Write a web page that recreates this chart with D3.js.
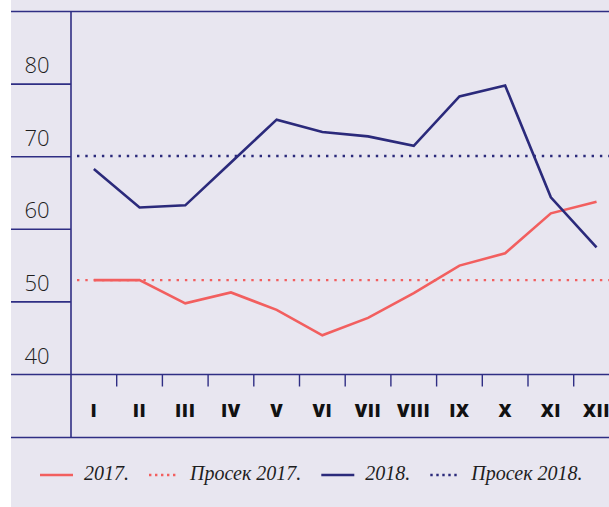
<!DOCTYPE html>
<meta charset="utf-8">
<head>
    <script src="https://d3js.org/d3.v7.min.js"></script>
    <style>
        body { margin: 0; background: #ffffff; }
        svg { display: block; }
    </style>
</head>
<body>
<div id="chart"></div>
<script>
    // data
    var months = ["I", "II", "III", "IV", "V", "VI", "VII", "VIII", "IX", "X", "XI", "XII"];
    var values2017 = [53.0, 53.0, 49.8, 51.3, 48.9, 45.4, 47.8, 51.2, 55.0, 56.7, 62.2, 63.8];
    var values2018 = [68.3, 63.0, 63.3, 69.2, 75.1, 73.4, 72.8, 71.5, 78.3, 79.8, 64.4, 57.5];
    var avg2017 = 53.0;
    var avg2018 = 70.1;
    var yTicks = [40, 50, 60, 70, 80];
    var legendLabels = ["2017.", "Просек 2017.", "2018.", "Просек 2018."];

    var width = 609, height = 507;
    var leftX = 11, axisX = 71, topY = 11.5, baseY = 374.5, bottomY = 437.5;
    var red = "#f25f5f", navy = "#2b2a7b", axisCol = "#2f2e84";

    var svg = d3.select("#chart")
      .append("svg")
        .attr("width", width)
        .attr("height", height);

    // background panel
    svg.append("rect")
        .attr("x", leftX).attr("y", 0)
        .attr("width", width - leftX).attr("height", height)
        .attr("fill", "#e8e6f0");

    var x = d3.scaleBand()
        .domain(months)
        .range([axisX, axisX + 12 * 45.7]);

    var y = d3.scaleLinear()
        .domain([40, 90])
        .range([baseY, topY]);

    // frame lines
    var frame = svg.append("g").attr("stroke", axisCol).attr("stroke-width", 1.6);
    frame.append("line").attr("x1", leftX).attr("x2", width).attr("y1", topY).attr("y2", topY);
    frame.append("line").attr("x1", leftX).attr("x2", width).attr("y1", y(40)).attr("y2", y(40));
    frame.append("line").attr("x1", leftX).attr("x2", width).attr("y1", bottomY).attr("y2", bottomY);
    frame.append("line").attr("x1", axisX).attr("x2", axisX).attr("y1", topY).attr("y2", bottomY);

    // short grid lines in the label column
    frame.selectAll(".grid")
      .data(yTicks.slice(1))
      .enter()
      .append("line")
        .attr("x1", leftX).attr("x2", axisX)
        .attr("y1", function(d) { return y(d); })
        .attr("y2", function(d) { return y(d); });

    // y labels sit above their line
    svg.append("g")
      .selectAll("text")
      .data(yTicks)
      .enter()
      .append("text")
        .attr("x", 37)
        .attr("y", function(d) { return y(d) - 11; })
        .attr("text-anchor", "middle")
        .attr("font-family", "Open Sans")
        .attr("font-weight", 300)
        .attr("font-size", 22)
        .attr("fill", "#1e1e1e")
        .text(function(d) { return d; });

    // x ticks between months
    svg.append("g")
      .selectAll("line")
      .data(months.slice(1))
      .enter()
      .append("line")
        .attr("x1", function(d) { return x(d); })
        .attr("x2", function(d) { return x(d); })
        .attr("y1", baseY)
        .attr("y2", baseY + 12)
        .attr("stroke", axisCol)
        .attr("stroke-width", 1.4);

    svg.append("g")
      .selectAll("text")
      .data(months)
      .enter()
      .append("text")
        .attr("x", function(d) { return x(d) + x.bandwidth() / 2; })
        .attr("y", 417)
        .attr("text-anchor", "middle")
        .attr("font-family", "Open Sans")
        .attr("font-weight", 800)
        .attr("font-size", 18)
        .attr("letter-spacing", 0.5)
        .attr("fill", "#111")
        .text(function(d) { return d; });

    // average lines
    [[avg2017, red], [avg2018, navy]].forEach(function(a) {
        svg.append("line")
            .attr("x1", 77).attr("x2", width)
            .attr("y1", y(a[0])).attr("y2", y(a[0]))
            .attr("stroke", a[1])
            .attr("stroke-width", 2.4)
            .attr("stroke-dasharray", "2.4,5.9");
    });

    var line = d3.line()
        .x(function(d, i) { return x(months[i]) + x.bandwidth() / 2; })
        .y(function(d) { return y(d); });

    svg.append("path")
        .datum(values2017)
        .attr("fill", "none")
        .attr("stroke", red)
        .attr("stroke-width", 2.6)
        .attr("d", line);

    svg.append("path")
        .datum(values2018)
        .attr("fill", "none")
        .attr("stroke", navy)
        .attr("stroke-width", 2.6)
        .attr("d", line);

    // legend
    var styles = [[red, null], [red, "2.4,3.6"], [navy, null], [navy, "2.4,3.6"]];
    var lx = 40, ly = 475;
    legendLabels.forEach(function(label, i) {
        svg.append("line")
            .attr("x1", lx).attr("x2", lx + (styles[i][1] ? 30 : 33))
            .attr("y1", ly).attr("y2", ly)
            .attr("stroke", styles[i][0])
            .attr("stroke-width", 2.6)
            .attr("stroke-dasharray", styles[i][1]);
        lx += (styles[i][1] ? 30 : 33) + 11;
        var t = svg.append("text")
            .attr("x", lx)
            .attr("y", ly + 5)
            .attr("font-family", "Liberation Serif")
            .attr("font-style", "italic")
            .attr("font-size", 20)
            .attr("fill", "#1e1e1e")
            .text(label);
        lx += t.node().getComputedTextLength() + 20;
    });
</script>
</body>
